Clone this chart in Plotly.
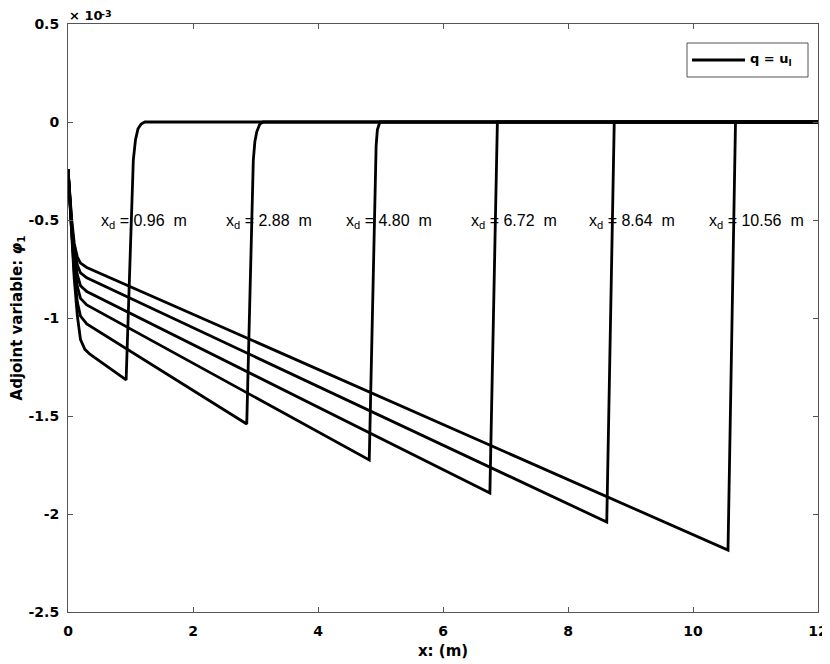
import plotly.graph_objects as go

# x_d values (m) and label positions
xd_values = [0.96, 2.88, 4.80, 6.72, 8.64, 10.56]
label_x = [0.50, 2.50, 4.42, 6.42, 8.30, 10.22]
label_y = -0.5

# Adjoint variable phi_1 in units of 1e-3
x_096 = [0, 0.03, 0.06, 0.10, 0.15, 0.20, 0.27, 0.35, 0.93, 1.045, 1.08, 1.12, 1.17, 1.23, 12]
y_096 = [-0.24, -0.43, -0.62, -0.80, -0.99, -1.11, -1.16, -1.185, -1.316, -0.194, -0.09, -0.035, -0.01, 0, 0]

x_288 = [0, 0.03, 0.06, 0.10, 0.15, 0.20, 0.30, 2.86, 2.965, 2.99, 3.02, 3.07, 3.12, 12]
y_288 = [-0.24, -0.42, -0.59, -0.77, -0.92, -0.99, -1.03, -1.541, -0.194, -0.10, -0.05, -0.01, 0, 0]

x_480 = [0, 0.03, 0.06, 0.10, 0.15, 0.20, 0.30, 4.82, 4.93, 4.95, 4.99, 12]
y_480 = [-0.24, -0.41, -0.56, -0.72, -0.84, -0.90, -0.933, -1.724, -0.12, -0.04, 0, 0]

x_672 = [0, 0.03, 0.06, 0.10, 0.15, 0.20, 0.30, 6.75, 6.86, 6.87, 12]
y_672 = [-0.24, -0.40, -0.54, -0.68, -0.78, -0.835, -0.865, -1.893, -0.01, 0, 0]

x_864 = [0, 0.03, 0.06, 0.10, 0.15, 0.20, 0.30, 8.62, 8.73, 8.74, 12]
y_864 = [-0.24, -0.39, -0.52, -0.65, -0.73, -0.77, -0.795, -2.041, -0.01, 0, 0]

x_1056 = [0, 0.03, 0.06, 0.10, 0.15, 0.20, 0.30, 10.56, 10.67, 10.68, 12]
y_1056 = [-0.24, -0.38, -0.50, -0.62, -0.69, -0.72, -0.742, -2.184, -0.01, 0, 0]

curves = [(x_096, y_096), (x_288, y_288), (x_480, y_480),
          (x_672, y_672), (x_864, y_864), (x_1056, y_1056)]

x_ticks = [0, 2, 4, 6, 8, 10, 12]
y_ticks = [0.5, 0, -0.5, -1, -1.5, -2, -2.5]
y_ticktext = ["0.5", "0", "-0.5", "-1", "-1.5", "-2", "-2.5"]

FONT = "Liberation Sans, Arial, Helvetica, sans-serif"
BFONT = "DejaVu Sans, Verdana, sans-serif"

# page has an 8px body margin; plot area should span px 68..818 x 24..612
ML, MT = 60, 16
PW, PH = 750, 588

fig = go.Figure()
for i, (xs, ys) in enumerate(curves):
    fig.add_trace(go.Scatter(x=xs, y=ys, mode="lines",
                             line=dict(color="black", width=2.8),
                             name="q = u<sub>l</sub>", showlegend=False,
                             hoverinfo="skip"))

for xd, lx in zip(xd_values, label_x):
    fig.add_annotation(x=lx, y=label_y, xref="x", yref="y",
                       text=f"x<sub>d</sub> = {xd:.2f}  m",
                       showarrow=False, xanchor="left", yanchor="middle",
                       yshift=-1,
                       font=dict(family=FONT, size=16, color="black"))

# page pixel -> paper coords
px = lambda p: (p - 68) / PW
py = lambda p: (612 - p) / PH

# exponent label (x 10^-3)
fig.add_annotation(x=px(67), y=py(24.5), xref="paper", yref="paper",
                   text="× 10", showarrow=False,
                   xanchor="left", yanchor="bottom",
                   font=dict(family=BFONT, size=13, color="black", weight="bold"))
fig.add_annotation(x=px(99), y=py(20.5), xref="paper", yref="paper",
                   text="-3", showarrow=False,
                   xanchor="left", yanchor="bottom",
                   font=dict(family=BFONT, size=9.5, color="black", weight="bold"))

# manual MATLAB-style legend
fig.add_shape(type="rect", xref="paper", yref="paper",
              x0=px(687), x1=px(808), y0=py(77), y1=py(43),
              line=dict(color="#555", width=1), fillcolor="white")
fig.add_shape(type="line", xref="paper", yref="paper",
              x0=px(692), x1=px(745), y0=py(60), y1=py(60),
              line=dict(color="black", width=2.8))
fig.add_annotation(x=px(748), y=py(60), xref="paper", yref="paper",
                   text="q = u<sub>l</sub>", showarrow=False,
                   xanchor="left", yanchor="middle",
                   font=dict(family=BFONT, size=13, color="black", weight="bold"))

axis_common = dict(showgrid=False, zeroline=False, showline=True,
                   linecolor="#555", linewidth=1, mirror="ticks",
                   ticks="inside", ticklen=5, tickcolor="#555",
                   tickfont=dict(family=BFONT, size=14, color="black", weight="bold"))

fig.update_xaxes(range=[0, 12], tickvals=x_ticks, ticklabelstandoff=6, **axis_common,
                 title=dict(text="x: (m)", standoff=7,
                            font=dict(family=BFONT, size=15, color="black", weight="bold")))
fig.update_yaxes(range=[-2.5, 0.5], tickvals=y_ticks, ticktext=y_ticktext,
                 ticklabelstandoff=5, **axis_common,
                 title=dict(text="Adjoint variable: <i>φ</i><sub>1</sub>", standoff=5,
                            font=dict(family=BFONT, size=15, color="black", weight="bold")))

fig.update_layout(width=ML + PW + 12, height=MT + PH + 52,
                  margin=dict(l=ML, r=12, t=MT, b=52, autoexpand=False),
                  paper_bgcolor="white", plot_bgcolor="white",
                  showlegend=False)

fig.write_html("out.html")
